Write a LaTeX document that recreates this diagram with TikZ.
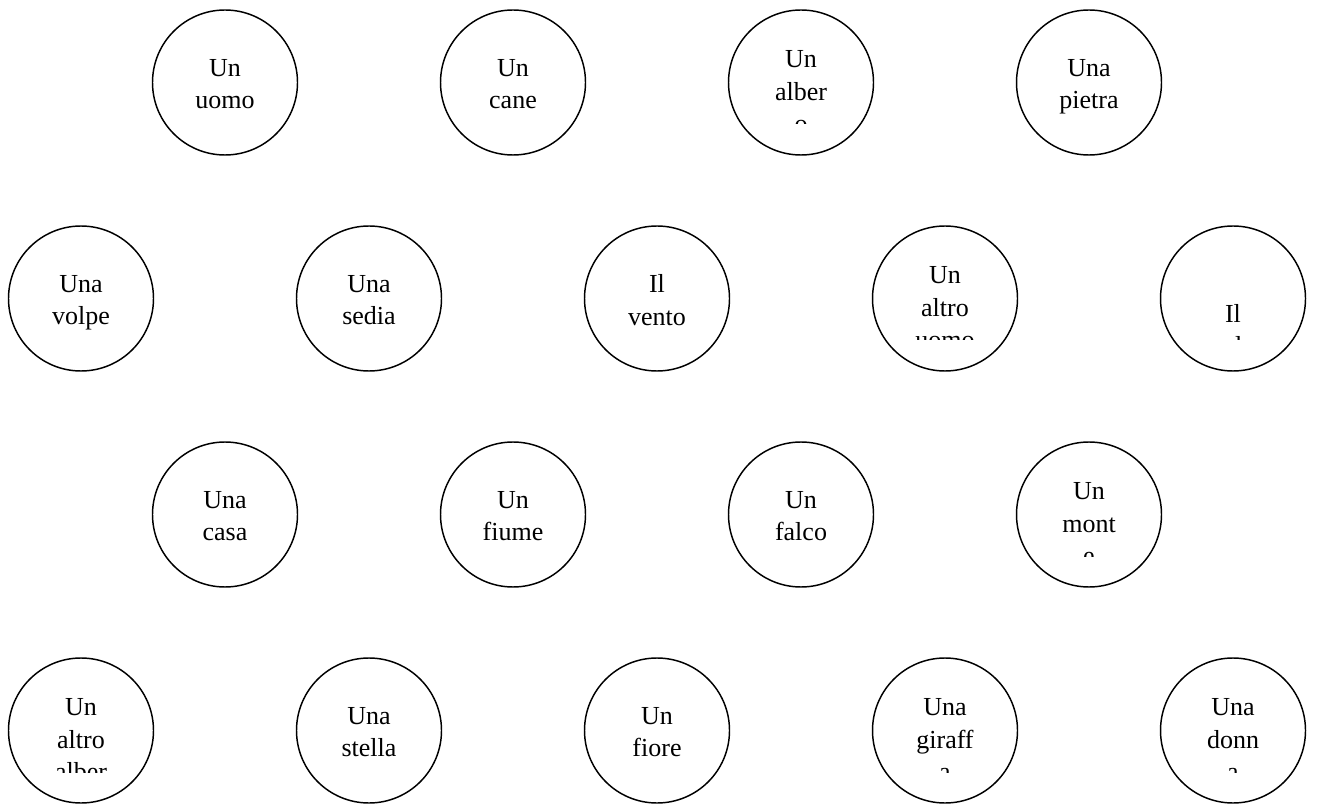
\documentclass[tikz,border=0pt]{standalone}
\usepackage{fontspec}
\setmainfont{Liberation Serif}
\usepackage{tikz}

\begin{document}
\begin{tikzpicture}[x=0.75pt, y=-0.75pt,
    bubble/.style={draw, circle, line width=1.1pt, minimum size=108.75pt, inner sep=0pt},
    words/.style={anchor=north, align=center, inner sep=0pt, font=\fontsize{19.5}{24.4}\selectfont}]
    \useasboundingbox (0,0) rectangle (1317,805);

    % Bubbles: name / x / y / text / top of text from centre
    \foreach \n/\x/\y/\txt/\dy in {
        uomo/225/82.5/Un\\uomo/-23.7,
        cane/513/82.5/Un\\cane/-23.7,
        albero/801/82.5/Un\\alber\\o/-32,
        pietra/1089/82.5/Una\\pietra/-23.7,
        volpe/81/298.5/Una\\volpe/-23.7,
        sedia/369/298.5/Una\\sedia/-23.7,
        vento/657/298.5/Il\\vento/-24.3,
        altrouomo/945/298.5/Un\\altro\\uomo/-32,
        sole/1233/298.5/Il\\sole/5.6,
        casa/225/514.5/Una\\casa/-23.7,
        fiume/513/514.5/Un\\fiume/-23.7,
        falco/801/514.5/Un\\falco/-23.7,
        monte/1089/514.5/Un\\mont\\e/-32,
        altroalbero/81/730.5/Un\\altro\\alber\\o/-32,
        stella/369/730.5/Una\\stella/-23.7,
        fiore/657/730.5/Un\\fiore/-23.7,
        giraffa/945/730.5/Una\\giraff\\a/-32,
        donna/1233/730.5/Una\\donn\\a/-32}{
        \node[bubble] (\n) at (\x,\y) {};
        % text cut off below the box
        \begin{scope}
            \clip (\x-72,\y-72) rectangle (\x+72,\y+41.5);
            \node[words] (\n-text) at (\x,\y+\dy) {\txt};
        \end{scope}
    }
\end{tikzpicture}
\end{document}
